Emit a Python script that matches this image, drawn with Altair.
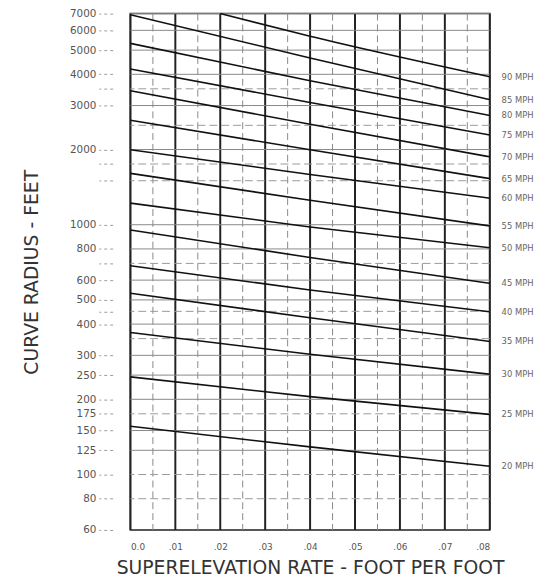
import altair as alt
import pandas as pd

# ---- data ----
speeds = [20, 25, 30, 35, 40, 45, 50, 55, 60, 65, 70, 75, 80, 85, 90]
# curve radius (ft) at superelevation e = 0.00, 0.04, 0.08
r_e000 = [156, 246, 370, 532, 685, 953, 1220, 1605, 1995, 2620, 3440, 4200, 5320, 6930, None]
r_e004 = [129, 205, 303, 424, 548, 739, 980, 1253, 1590, 1995, 2525, 3085, 3770, 4650, 5680]
r_e008 = [108, 174, 252, 341, 448, 583, 809, 989, 1277, 1530, 1870, 2285, 2740, 3170, 3910]
# the 90 MPH curve enters from the top edge
r90_entry_e = 0.02
r90_entry_r = 7000

x_tick_values = [0.0, 0.01, 0.02, 0.03, 0.04, 0.05, 0.06, 0.07, 0.08]
x_tick_labels = ["0.0", ".01", ".02", ".03", ".04", ".05", ".06", ".07", ".08"]
x_minor = [0.005, 0.015, 0.025, 0.035, 0.045, 0.055, 0.065, 0.075]

y_labelled = [7000, 6000, 5000, 4000, 3000, 2000, 1000, 800, 600, 500, 400, 300,
              250, 200, 175, 150, 125, 100, 80, 60]
y_unlabelled = [3500, 1750, 1500, 700, 450]
y_grid_solid = [7000, 6000, 5000, 4000, 3000, 2000, 1000, 800, 600, 500, 400, 300,
                250, 200, 150, 125]
y_grid_dashed = [3500, 2500, 1750, 1500, 700, 450, 350, 175, 100, 80]

# ---- tables ----
rows = []
for i, s in enumerate(speeds):
    if r_e000[i] is not None:
        rows.append({"speed": s, "e": 0.0, "radius": r_e000[i]})
    else:
        rows.append({"speed": s, "e": r90_entry_e, "radius": r90_entry_r})
    rows.append({"speed": s, "e": 0.04, "radius": r_e004[i]})
    rows.append({"speed": s, "e": 0.08, "radius": r_e008[i]})
curves = pd.DataFrame(rows)
labels = pd.DataFrame({"speed": speeds, "e": [0.08] * len(speeds), "radius": r_e008,
                       "label": [f"{s} MPH" for s in speeds]})

FONT = "DejaVu Sans"
label_js = "[" + ",".join(f"'{t}'" for t in x_tick_labels) + "]"
ylab_js = "[" + ",".join(str(v) for v in y_labelled) + "]"

xs = alt.Scale(domain=[0, 0.08], nice=False, zero=False)
ys = alt.Scale(type="log", domain=[60, 7000], nice=False)


def X():
    return alt.X("e:Q", scale=xs, axis=alt.Axis(
        values=x_tick_values, labelExpr=f"{label_js}[round(datum.value*100)]",
        grid=False, domain=False, ticks=False, labelPadding=13, labelFontSize=9,
        labelColor="#555", labelFont=FONT,
        title="SUPERELEVATION RATE - FOOT PER FOOT", titleFont=FONT, titleFontSize=19,
        titleFontWeight="normal", titleColor="#333", titlePadding=7))


def Y():
    return alt.Y("radius:Q", scale=ys, axis=alt.Axis(
        values=y_labelled + y_unlabelled, format="d",
        labelExpr=f"indexof({ylab_js}, datum.value) >= 0 ? datum.label : ''",
        grid=False, domain=False, offset=18, ticks=True, tickSize=14, tickDash=[3, 3],
        tickColor="#999", labelPadding=3, labelFontSize=10.5, labelColor="#555",
        labelFont=FONT, labelFlush=False, labelOverlap=False,
        title="CURVE RADIUS - FEET", titleFont=FONT, titleFontSize=19,
        titleFontWeight="normal", titleColor="#333", titlePadding=28))


vdash = alt.Chart(pd.DataFrame({"e": x_minor})).mark_rule(
    color="#888", strokeWidth=1, strokeDash=[7, 4]).encode(x=X())
vsolid = alt.Chart(pd.DataFrame({"e": x_tick_values})).mark_rule(
    color="#222", strokeWidth=2).encode(x=X())
hdash = alt.Chart(pd.DataFrame({"radius": y_grid_dashed})).mark_rule(
    color="#999", strokeWidth=1, strokeDash=[8, 4]).encode(y=Y())
hsolid = alt.Chart(pd.DataFrame({"radius": y_grid_solid})).mark_rule(
    color="#888", strokeWidth=1).encode(y=Y())
lines = alt.Chart(curves).mark_line(color="#111", strokeWidth=1.6, interpolate="monotone").encode(
    x=X(), y=Y(), detail="speed:N")
text = alt.Chart(labels).mark_text(align="left", baseline="middle", dx=12, fontSize=8.5,
                                   font=FONT, color="#666").encode(
    x=X(), y=Y(), text="label:N")

chart = alt.layer(vdash, vsolid, hdash, hsolid, lines, text).properties(
    width=364, height=523,
    autosize=alt.AutoSizeParams(type="none"),
    padding={"left": 124, "top": 2, "right": 60, "bottom": 45},
    background="white",
).configure_view(stroke="#222", strokeWidth=1.5)

chart.save("out.html", embed_options={"renderer": "svg", "actions": False})
